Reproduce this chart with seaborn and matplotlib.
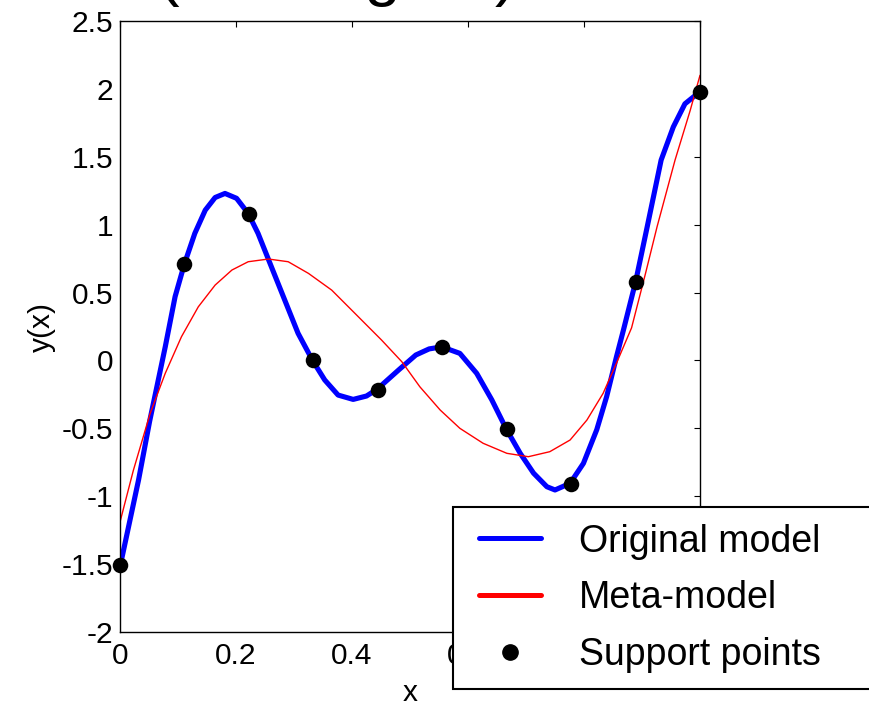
import pandas as pd
import matplotlib
matplotlib.use("Agg")
import matplotlib.pyplot as plt
from matplotlib.lines import Line2D
from matplotlib.legend_handler import HandlerLine2D
import seaborn as sns

# original model
orig_x = [0.000, 0.032, 0.051, 0.078, 0.095, 0.111, 0.129, 0.147, 0.164, 0.181,
          0.201, 0.221, 0.238, 0.261, 0.284, 0.307, 0.332, 0.353, 0.376, 0.402,
          0.425, 0.443, 0.481, 0.510, 0.533, 0.555, 0.586, 0.615, 0.641, 0.666,
          0.690, 0.713, 0.736, 0.750, 0.776, 0.799, 0.822, 0.839, 0.856, 0.868,
          0.889, 0.909, 0.933, 0.954, 0.974, 1.000]
orig_y = [-1.52, -0.88, -0.45, 0.10, 0.47, 0.71, 0.936, 1.107, 1.20, 1.23,
          1.194, 1.083, 0.936, 0.69, 0.445, 0.20, 0.00, -0.144, -0.255, -0.287,
          -0.262, -0.213, -0.068, 0.04, 0.085, 0.10, 0.052, -0.095, -0.29, -0.505,
          -0.684, -0.83, -0.93, -0.954, -0.905, -0.758, -0.51, -0.267, 0.027, 0.224,
          0.58, 0.985, 1.476, 1.72, 1.89, 1.98]

# meta-model
meta_x = [0.000, 0.023, 0.052, 0.078, 0.106, 0.135, 0.164, 0.193, 0.221, 0.256,
          0.290, 0.325, 0.365, 0.405, 0.451, 0.486, 0.517, 0.552, 0.586, 0.626,
          0.667, 0.704, 0.741, 0.776, 0.805, 0.833, 0.856, 0.882, 0.906, 0.926,
          0.957, 0.983, 1.000]
meta_y = [-1.19, -0.81, -0.39, -0.095, 0.175, 0.395, 0.555, 0.666, 0.727, 0.747,
          0.727, 0.641, 0.518, 0.347, 0.15, -0.01, -0.194, -0.365, -0.50, -0.61,
          -0.684, -0.709, -0.672, -0.586, -0.439, -0.242, -0.02, 0.24, 0.64, 0.985,
          1.476, 1.84, 2.10]

# support points
pts_x = [0.000, 0.111, 0.222, 0.333, 0.444, 0.556, 0.667, 0.778, 0.889, 1.000]
pts_y = [-1.51, 0.71, 1.08, 0.00, -0.215, 0.10, -0.505, -0.91, 0.58, 1.98]

x_ticks = [0, 0.2, 0.4, 0.6, 0.8, 1]
x_tick_labels = ["0", "0.2", "0.4", "0.6", "0.8", "1"]
y_ticks = [-2, -1.5, -1, -0.5, 0, 0.5, 1, 1.5, 2, 2.5]
y_tick_labels = ["-2", "-1.5", "-1", "-0.5", "0", "0.5", "1", "1.5", "2", "2.5"]
legend_labels = ["Original model", "Meta-model", "Support points"]

sns.set_theme(style="white")
plt.rcParams["font.family"] = ["Liberation Sans", "DejaVu Sans"]
plt.rcParams["axes.unicode_minus"] = False

BLUE = "#0000ff"
RED = "#ff0000"

orig = pd.DataFrame({"x": orig_x, "y": orig_y})
meta = pd.DataFrame({"x": meta_x, "y": meta_y})
pts = pd.DataFrame({"x": pts_x, "y": pts_y})

fig = plt.figure(figsize=(8.69, 7.06), dpi=100)
ax = fig.add_axes([120 / 869, 74 / 706, 580 / 869, 611 / 706])

sns.lineplot(data=orig, x="x", y="y", ax=ax, color=BLUE, linewidth=3.7,
             estimator=None, sort=False, solid_joinstyle="round")
sns.lineplot(data=meta, x="x", y="y", ax=ax, color=RED, linewidth=1.0,
             estimator=None, sort=False, solid_joinstyle="round")
sns.scatterplot(data=pts, x="x", y="y", ax=ax, color="black", s=125,
                linewidth=0, zorder=5, clip_on=False)

ax.set_xlim(0, 1)
ax.set_ylim(-2, 2.5)
ax.set_xticks(x_ticks)
ax.set_xticklabels(x_tick_labels)
ax.set_yticks(y_ticks)
ax.set_yticklabels(y_tick_labels)
ax.tick_params(direction="in", top=True, right=True, length=4.5, width=0.8,
               labelsize=21.5, colors="black")
ax.tick_params(axis="x", pad=7)
ax.tick_params(axis="y", pad=5)
for s in ax.spines.values():
    s.set_color("black")
    s.set_linewidth(1.0)
ax.set_xlabel("x", fontsize=21.5, labelpad=7, color="black")
ax.set_ylabel("y(x)", fontsize=21.5, labelpad=4, color="black")

# title sits mostly above the canvas, as in the reference
fig.text(517 / 869, 1 + 6 / 706, "(3rd degree)", ha="right", va="baseline",
         fontsize=47, color="black")

handles = [Line2D([], [], color=BLUE, lw=3.6),
           Line2D([], [], color=RED, lw=3.6),
           Line2D([], [], color="black", marker="o", ls="none", markersize=11)]
pad_handler = HandlerLine2D(xpad=0.26)
leg = fig.legend(handles, legend_labels, loc="upper left",
                 bbox_to_anchor=(453 / 869, 1 - 507 / 706, 0.6, 0.0),
                 bbox_transform=fig.transFigure, mode="expand", fontsize=27,
                 frameon=True, fancybox=False, edgecolor="black", framealpha=1,
                 handlelength=1.91, handletextpad=1.0, borderpad=0.44,
                 labelspacing=0.55, borderaxespad=0, labelcolor="black",
                 handler_map={h: pad_handler for h in handles})
leg.get_frame().set_linewidth(1.5)

fig.savefig("out.png", dpi=100)
